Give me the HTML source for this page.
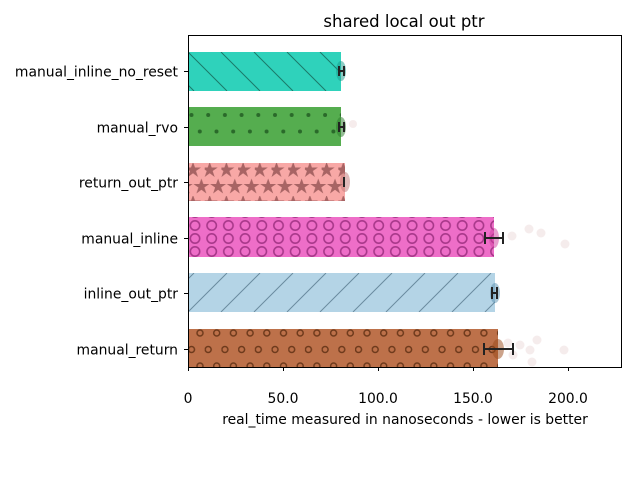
<!DOCTYPE html>
<html><head><meta charset="utf-8"><style>body{margin:0;background:#fff}svg{display:block}text{font-family:"DejaVu Sans","Liberation Sans",sans-serif}</style></head><body>
<svg width="640" height="480" xmlns="http://www.w3.org/2000/svg">
<defs>
<pattern id="p1" width="33" height="39" patternUnits="userSpaceOnUse" x="188" y="52"><path d="M-33,0 L6,39 M0,0 L39,39 M33,0 L72,39" stroke="#1a7a6a" stroke-width="1"/></pattern>
<pattern id="p2" width="16.7" height="33" patternUnits="userSpaceOnUse" x="188" y="107"><circle cx="3.5" cy="8" r="2" fill="#2a6a2a"/><circle cx="11.8" cy="24.5" r="2" fill="#2a6a2a"/></pattern>
<pattern id="p3" width="16.7" height="33" patternUnits="userSpaceOnUse" x="188" y="163"><g fill="#a86464"><polygon id="st" points="8,0 10,5.5 16,5.5 11,9 13,15 8,11.3 3,15 5,9 0,5.5 6,5.5" transform="translate(-3,-1)"/><use href="#st" transform="translate(-8.3,16.5)"/><use href="#st" transform="translate(8.4,16.5)"/></g></pattern>
<pattern id="p4" width="16.7" height="13" patternUnits="userSpaceOnUse" x="188" y="220"><circle cx="7" cy="5.5" r="4.7" fill="none" stroke="#a8388a" stroke-width="1.6"/></pattern>
<pattern id="p5" width="33" height="39" patternUnits="userSpaceOnUse" x="188" y="273"><path d="M0,39 L39,0 M-33,39 L6,0 M33,39 L72,0" stroke="#6a8ca0" stroke-width="1"/></pattern>
<pattern id="p6" width="16.7" height="33" patternUnits="userSpaceOnUse" x="188" y="329"><g fill="none" stroke="#6e3a1c" stroke-width="1.5"><circle cx="12" cy="4" r="3"/><circle cx="3.5" cy="20.5" r="3"/></g></pattern>
</defs>
<text x="404" y="27" font-size="16.5" text-anchor="middle">shared local out ptr</text>
<rect x="188" y="52" width="153" height="39" fill="#2fd2bb"/><rect x="188" y="52" width="153" height="39" fill="url(#p1)"/>
<rect x="188" y="107" width="153" height="39" fill="#55ad4f"/><rect x="188" y="107" width="153" height="39" fill="url(#p2)"/>
<rect x="188" y="163" width="157" height="38" fill="#f8a8a6"/><rect x="188" y="163" width="157" height="38" fill="url(#p3)"/>
<rect x="188" y="217" width="306" height="40" fill="#ee6ec8"/><rect x="188" y="217" width="306" height="40" fill="url(#p4)"/>
<rect x="188" y="273" width="307" height="39" fill="#b4d4e6"/><rect x="188" y="273" width="307" height="39" fill="url(#p5)"/>
<rect x="188" y="329" width="310" height="38" fill="#bd714a"/><rect x="188" y="329" width="310" height="38" fill="url(#p6)"/>
<g opacity="0.5"><ellipse cx="341" cy="71" rx="5" ry="10" fill="#1a9a8a"/><ellipse cx="341" cy="127" rx="5" ry="10" fill="#2a7a2a"/><ellipse cx="345" cy="182" rx="5" ry="10" fill="#c07878"/><ellipse cx="494" cy="238" rx="5" ry="10" fill="#d040a0"/><ellipse cx="495" cy="293" rx="5" ry="10" fill="#5a90b0"/><ellipse cx="498" cy="349" rx="6" ry="10" fill="#9a4a1a"/></g>
<g fill="#e8d0d0" opacity="0.4"><circle cx="529" cy="229" r="4.5"/><circle cx="541" cy="233" r="4.5"/><circle cx="565" cy="244" r="4.5"/><circle cx="512" cy="236" r="4.5"/><circle cx="520" cy="345" r="4.5"/><circle cx="530" cy="350" r="4.5"/><circle cx="537" cy="340" r="4.5"/><circle cx="532" cy="362" r="4.5"/><circle cx="564" cy="350" r="4.5"/><circle cx="513" cy="355" r="4.5"/><circle cx="508" cy="343" r="4.5"/><circle cx="353" cy="124" r="4"/></g>
<g stroke="#222" stroke-width="2" fill="none"><path d="M339,66v10M344,66v10M339,71h5"/><path d="M339,122v10M344,122v10M339,127h5"/><path d="M344,177v10"/><path d="M485,232v12M503,232v12M485,238h18"/><path d="M492,287v12M497,287v12M492,293h5"/><path d="M484,343v12M513,343v12M484,349h29"/></g>
<g stroke="#000" stroke-width="1" fill="none"><rect x="188.5" y="35.5" width="433" height="332"/><path d="M188.5,367v4M283.5,367v4M378.5,367v4M473.5,367v4M568.5,367v4"/><path d="M184,71.5h4M184,127.5h4M184,182.5h4M184,238.5h4M184,293.5h4M184,349.5h4"/></g>
<g font-size="13.9" text-anchor="end"><text x="178" y="76.5">manual_inline_no_reset</text><text x="178" y="132.5">manual_rvo</text><text x="178" y="187.5">return_out_ptr</text><text x="178" y="243.5">manual_inline</text><text x="178" y="298.5">inline_out_ptr</text><text x="178" y="354.5">manual_return</text></g>
<g font-size="13.9" text-anchor="middle"><text x="188" y="403">0</text><text x="283" y="403">50.0</text><text x="378" y="403">100.0</text><text x="473" y="403">150.0</text><text x="568" y="403">200.0</text><text x="405" y="424">real_time measured in nanoseconds - lower is better</text></g>
</svg>
</body></html>
